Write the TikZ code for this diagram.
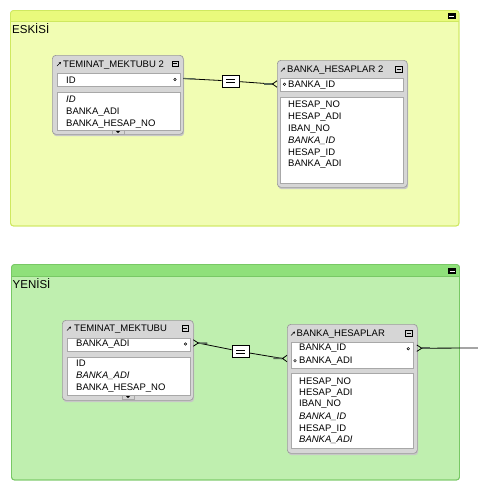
\documentclass[tikz,border=0pt]{standalone}
\usepackage{fontspec}
\setmainfont{Liberation Sans}
\usetikzlibrary{calc,arrows.meta}
\definecolor{yhead}{HTML}{E9FA7C}
\definecolor{ybody}{HTML}{F1FDB3}
\definecolor{yline}{HTML}{CFE860}
\definecolor{ghead}{HTML}{8FE07A}
\definecolor{gbody}{HTML}{BFEFAF}
\definecolor{gline}{HTML}{78C865}
\definecolor{frameF}{HTML}{D6D6D6}
\definecolor{frameB}{HTML}{9C9C9C}
\definecolor{innerB}{HTML}{A8A8A8}
\definecolor{connD}{HTML}{556655}
\tikzset{
  grpbody/.style={rounded corners=3pt, line width=0.8pt},
  tframe/.style={draw=frameB, fill=frameF, rounded corners=3.5pt, line width=0.7pt, anchor=north west, inner sep=0pt},
  tshadow/.style={fill=black!22, rounded corners=3.5pt, anchor=north west, inner sep=0pt},
  ibox/.style={draw=innerB, fill=white, line width=0.6pt, anchor=north west, inner sep=0pt},
  fld/.style={anchor=base west, inner sep=0pt, font=\fontsize{9.5}{11}\selectfont},
  ifld/.style={fld, font=\fontsize{9.5}{11}\selectfont\itshape},
  grptitle/.style={anchor=base west, inner sep=0pt, font=\fontsize{11.5}{13}\selectfont},
  keydot/.style={circle, draw=black, line width=0.5pt, inner sep=0pt, minimum size=2.6pt},
  conn/.style={draw=black, line width=0.8pt},
  connthick/.style={draw=connD, line width=1.6pt},
  eqbox/.style={draw=black, fill=white, line width=0.7pt, minimum width=17pt, minimum height=12pt, inner sep=0pt},
  minibtn/.style={fill=black, minimum width=8pt, minimum height=6pt, inner sep=0pt},
  ticon/.style={draw=black, line width=0.5pt, minimum width=6.5pt, minimum height=5.5pt, inner sep=0pt},
  tabbox/.style={fill=frameF, draw=innerB, line width=0.4pt, minimum width=12pt, minimum height=4pt, inner sep=0pt},
}
\begin{document}
\begin{tikzpicture}[x=1pt,y=-1pt]
\useasboundingbox (0,0) rectangle (478,499);
\fill[white] (0,0) rectangle (478,499);

% ---------- group ESKISI ----------
\path[grpbody, fill=ybody, draw=yline] (10.5,10.5) rectangle (459,226);
\begin{scope}
\clip[rounded corners=3pt] (10.5,10.5) rectangle (459,226);
\fill[yhead] (10.5,10.5) rectangle (459,21);
\draw[yline, line width=0.6pt] (10.5,21) -- (459,21);
\end{scope}
\draw[grpbody, draw=yline] (10.5,10.5) rectangle (459,226);
\node[minibtn] (yb) at (451.5,16) {};
\draw[white, line width=1pt] ($(yb.center)+(-2.5,0)$) -- ($(yb.center)+(2.5,0)$);
\node[grptitle] (yt) at (12,33.1) {ESKİSİ};

% ---------- group YENISI ----------
\path[grpbody, fill=gbody, draw=gline] (11.5,264.5) rectangle (459.5,480);
\begin{scope}
\clip[rounded corners=3pt] (11.5,264.5) rectangle (459.5,480);
\fill[ghead] (11.5,264.5) rectangle (459.5,276);
\draw[gline, line width=0.6pt] (11.5,276) -- (459.5,276);
\end{scope}
\draw[grpbody, draw=gline] (11.5,264.5) rectangle (459.5,480);
\node[minibtn] (gb) at (452,271) {};
\draw[white, line width=1pt] ($(gb.center)+(-2.5,0)$) -- ($(gb.center)+(2.5,0)$);
\node[grptitle] (gt) at (12.5,288.1) {YENİSİ};

% ---------- table TEMINAT_MEKTUBU 2 ----------
\node[tshadow, minimum width=131pt, minimum height=79pt] (t1s) at (53,57) {};
\node[tframe, minimum width=131pt, minimum height=79pt] (t1) at (52,55) {};
\draw[-{Stealth[length=2.2pt,width=2.2pt]}, line width=0.6pt] (57,66) -- (61,62);
\node[ticon] (t1i) at (175,63.5) {};
\draw[line width=0.6pt] ($(t1i.center)+(-2,0)$) -- ($(t1i.center)+(2,0)$);
\node[fld] (t1t) at (63,67) {TEMINAT\_MEKTUBU 2};
\node[ibox, minimum width=123pt, minimum height=13.5pt] (t1k) at (57,72.5) {};
\node[fld] (t1k1) at (66,83) {ID};
\node[keydot] (t1d) at (175,79.5) {};
\node[ibox, minimum width=123pt, minimum height=38pt] (t1f) at (57,92) {};
\node[ifld] (t1f1) at (66,102.9) {ID};
\node[fld] (t1f2) at (66,114.4) {BANKA\_ADI};
\node[fld] (t1f3) at (66,126.4) {BANKA\_HESAP\_NO};
\node[tabbox] (t1tab) at (118,132) {};
\fill (116,131) -- (120,131) -- (118,133.2) -- cycle;

% ---------- table BANKA_HESAPLAR 2 ----------
\node[tshadow, minimum width=130pt, minimum height=127pt] (t2s) at (278,62) {};
\node[tframe, minimum width=130pt, minimum height=127pt] (t2) at (277,60) {};
\draw[-{Stealth[length=2.2pt,width=2.2pt]}, line width=0.6pt] (281,71.5) -- (285,67.5);
\node[ticon] (t2i) at (398.5,69) {};
\draw[line width=0.6pt] ($(t2i.center)+(-2,0)$) -- ($(t2i.center)+(2,0)$);
\node[fld] (t2t) at (287,72.4) {BANKA\_HESAPLAR 2};
\node[ibox, minimum width=123pt, minimum height=13.5pt] (t2k) at (280,77.5) {};
\node[keydot] (t2d) at (284.5,84.3) {};
\node[fld] (t2k1) at (288,87.7) {BANKA\_ID};
\node[ibox, minimum width=123pt, minimum height=86pt] (t2f) at (280,97) {};
\node[fld] (t2f1) at (288,107.7) {HESAP\_NO};
\node[fld] (t2f2) at (288,119.4) {HESAP\_ADI};
\node[fld] (t2f3) at (288,131.1) {IBAN\_NO};
\node[ifld] (t2f4) at (288,143.2) {BANKA\_ID};
\node[fld] (t2f5) at (288,155.1) {HESAP\_ID};
\node[fld] (t2f6) at (288,166.9) {BANKA\_ADI};

% ---------- connector 1 ----------
\coordinate (c1a) at (183.3,78.5);
\coordinate (c1b) at (272.5,84);
\coordinate (c1e) at (277,84);
\node[eqbox] (eq1) at (230.5,81) {};
\draw[conn] (c1a) -- (eq1) -- (c1b);
\draw[connthick] (c1b) -- ++(-9,0);
\draw[connthick, line width=1.2pt] (c1a) -- ++(12,0.4);
\draw[conn] ($(c1e)+(0,-3.2)$) -- (c1b) -- ($(c1e)+(0,3.2)$);
\draw[line width=0.8pt] ($(eq1.center)+(-4.5,-1.6)$) -- ++(9,0) ($(eq1.center)+(-4.5,1.6)$) -- ++(9,0);

% ---------- table TEMINAT_MEKTUBU ----------
\node[tshadow, minimum width=131pt, minimum height=80pt] (t3s) at (63,322) {};
\node[tframe, minimum width=131pt, minimum height=80pt] (t3) at (62,320) {};
\draw[-{Stealth[length=2.2pt,width=2.2pt]}, line width=0.6pt] (67,330.5) -- (71,326.5);
\node[ticon] (t3i) at (185,328) {};
\draw[line width=0.6pt] ($(t3i.center)+(-2,0)$) -- ($(t3i.center)+(2,0)$);
\node[fld] (t3t) at (74,331.4) {TEMINAT\_MEKTUBU};
\node[ibox, minimum width=123pt, minimum height=13.5pt] (t3k) at (67,337.7) {};
\node[fld] (t3k1) at (76,346.7) {BANKA\_ADI};
\node[keydot] (t3d) at (185.5,344) {};
\node[ibox, minimum width=123pt, minimum height=38.3pt] (t3f) at (67,356.7) {};
\node[fld] (t3f1) at (76,366.7) {ID};
\node[ifld] (t3f2) at (76,378.4) {BANKA\_ADI};
\node[fld] (t3f3) at (76,390.1) {BANKA\_HESAP\_NO};
\node[tabbox] (t3tab) at (128,397) {};
\fill (126,396) -- (130,396) -- (128,398.2) -- cycle;

% ---------- table BANKA_HESAPLAR ----------
\node[tshadow, minimum width=130pt, minimum height=129pt] (t4s) at (288,326) {};
\node[tframe, minimum width=130pt, minimum height=129pt] (t4) at (287,324) {};
\draw[-{Stealth[length=2.2pt,width=2.2pt]}, line width=0.6pt] (291,335.5) -- (295,331.5);
\node[ticon] (t4i) at (408.5,333) {};
\draw[line width=0.6pt] ($(t4i.center)+(-2,0)$) -- ($(t4i.center)+(2,0)$);
\node[fld] (t4t) at (296.5,336.7) {BANKA\_HESAPLAR};
\node[ibox, minimum width=122pt, minimum height=26.5pt] (t4k) at (291,341.7) {};
\node[fld] (t4k1) at (299,350.7) {BANKA\_ID};
\node[keydot] (t4d1) at (408.3,348.7) {};
\node[keydot] (t4d2) at (295,360.8) {};
\node[fld] (t4k2) at (299,363.4) {BANKA\_ADI};
\node[ibox, minimum width=122pt, minimum height=75pt] (t4f) at (291,373.3) {};
\node[fld] (t4f1) at (299,384.1) {HESAP\_NO};
\node[fld] (t4f2) at (299,395.1) {HESAP\_ADI};
\node[fld] (t4f3) at (299,406.7) {IBAN\_NO};
\node[ifld] (t4f4) at (299,419.1) {BANKA\_ID};
\node[fld] (t4f5) at (299,431.1) {HESAP\_ID};
\node[ifld] (t4f6) at (299,442.4) {BANKA\_ADI};

% ---------- connector 2 ----------
\coordinate (c2s) at (193.3,343);
\coordinate (c2a) at (198.3,343);
\coordinate (c2b) at (282.5,358.5);
\coordinate (c2e) at (287,358.5);
\node[eqbox] (eq2) at (240.5,351.5) {};
\draw[conn] (c2a) -- (eq2) -- (c2b);
\draw[connthick] (c2a) -- ++(9,0.3);
\draw[connthick] (c2b) -- ++(-9,-0.3);
\draw[conn] ($(c2s)+(0,-3.2)$) -- (c2a) -- ($(c2s)+(0,3.2)$);
\draw[conn] ($(c2e)+(0,-3.2)$) -- (c2b) -- ($(c2e)+(0,3.2)$);
\draw[line width=0.8pt] ($(eq2.center)+(-4.5,-1.6)$) -- ++(9,0) ($(eq2.center)+(-4.5,1.6)$) -- ++(9,0);

% ---------- connector 3 (to the right edge) ----------
\coordinate (c3s) at (416.8,348.2);
\coordinate (c3a) at (421.8,348.2);
\coordinate (c3end) at (478,348);
\draw[conn] (c3a) -- (c3end);
\draw[connthick] (c3a) -- ++(8,0);
\draw[conn] ($(c3s)+(0,-3.2)$) -- (c3a) -- ($(c3s)+(0,3.2)$);
\end{tikzpicture}
\end{document}
